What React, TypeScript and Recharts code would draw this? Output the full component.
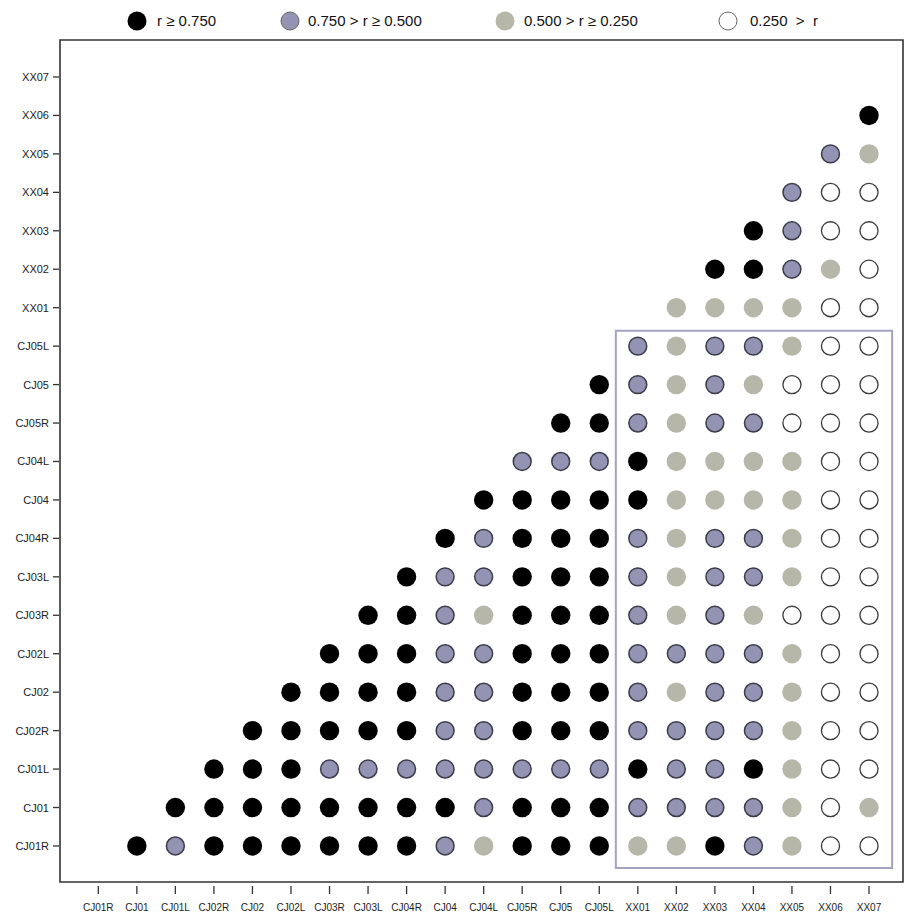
import React from "react";
import { ScatterChart, Scatter, XAxis, YAxis, ReferenceArea } from "recharts";

// Variable names (same order on both axes)
const variables = [
  "CJ01R", "CJ01", "CJ01L", "CJ02R", "CJ02", "CJ02L", "CJ03R", "CJ03L",
  "CJ04R", "CJ04", "CJ04L", "CJ05R", "CJ05", "CJ05L",
  "XX01", "XX02", "XX03", "XX04", "XX05", "XX06", "XX07",
];

// Correlation classes: 3 = r ≥ .75, 2 = .75 > r ≥ .5, 1 = .5 > r ≥ .25, 0 = .25 > r
const levelLabels = ["0.250  >  r", "0.500 > r ≥ 0.250", "0.750 > r ≥ 0.500", "r ≥ 0.750"];

// Each row: classes for the columns to the right of the diagonal
const rowCJ01R = [3, 2, 3, 3, 3, 3, 3, 3, 2, 1, 3, 3, 3, 1, 1, 3, 2, 1, 0, 0];
const rowCJ01 = [3, 3, 3, 3, 3, 3, 3, 3, 2, 3, 3, 3, 2, 2, 2, 2, 1, 0, 1];
const rowCJ01L = [3, 3, 3, 2, 2, 2, 2, 2, 2, 2, 2, 3, 2, 2, 3, 1, 0, 0];
const rowCJ02R = [3, 3, 3, 3, 3, 2, 2, 3, 3, 3, 2, 2, 2, 2, 1, 0, 0];
const rowCJ02 = [3, 3, 3, 3, 2, 2, 3, 3, 3, 2, 1, 2, 2, 1, 0, 0];
const rowCJ02L = [3, 3, 3, 2, 2, 3, 3, 3, 2, 2, 2, 2, 1, 0, 0];
const rowCJ03R = [3, 3, 2, 1, 3, 3, 3, 2, 1, 2, 1, 0, 0, 0];
const rowCJ03L = [3, 2, 2, 3, 3, 3, 2, 1, 2, 2, 1, 0, 0];
const rowCJ04R = [3, 2, 3, 3, 3, 2, 1, 2, 2, 1, 0, 0];
const rowCJ04 = [3, 3, 3, 3, 3, 1, 1, 1, 1, 0, 0];
const rowCJ04L = [2, 2, 2, 3, 1, 1, 1, 1, 0, 0];
const rowCJ05R = [3, 3, 2, 1, 2, 2, 0, 0, 0];
const rowCJ05 = [3, 2, 1, 2, 1, 0, 0, 0];
const rowCJ05L = [2, 1, 2, 2, 1, 0, 0];
const rowXX01 = [1, 1, 1, 1, 0, 0];
const rowXX02 = [3, 3, 2, 1, 0];
const rowXX03 = [3, 2, 0, 0];
const rowXX04 = [2, 0, 0];
const rowXX05 = [2, 1];
const rowXX06 = [3];
const rowXX07: number[] = [];

const rows = [
  rowCJ01R, rowCJ01, rowCJ01L, rowCJ02R, rowCJ02, rowCJ02L, rowCJ03R, rowCJ03L,
  rowCJ04R, rowCJ04, rowCJ04L, rowCJ05R, rowCJ05, rowCJ05L,
  rowXX01, rowXX02, rowXX03, rowXX04, rowXX05, rowXX06, rowXX07,
];

const points: { x: number; y: number; level: number }[] = [];
rows.forEach((row, i) => {
  row.forEach((level, k) => {
    points.push({ x: i + 1 + k, y: i, level });
  });
});

const styles = [
  { fill: "#ffffff", stroke: "#3a3a3a", strokeWidth: 1.3 },
  { fill: "#b6b7a9", stroke: "none", strokeWidth: 0 },
  { fill: "#9394b4", stroke: "#3a3a4a", strokeWidth: 1.5 },
  { fill: "#000000", stroke: "none", strokeWidth: 0 },
];

const ticks = variables.map((_, i) => i);
const xMin = -0.994;
const xMax = 20.882;
const yMin = -0.937;
const yMax = 20.962;

const R = 9.7;

const makeShape = (level: number) => (props: any) => {
  const { cx, cy } = props;
  const s = styles[level];
  return (
    <circle
      cx={cx}
      cy={cy}
      r={s.stroke === "none" ? R : R - s.strokeWidth / 2}
      fill={s.fill}
      stroke={s.stroke}
      strokeWidth={s.strokeWidth}
    />
  );
};

const XTick = (props: any) => {
  const { x, y, payload } = props;
  return (
    <g>
      <line x1={x} y1={y + 4} x2={x} y2={y + 12} stroke="#333" strokeWidth={1.3} />
      <text
        x={x}
        y={y + 29}
        textAnchor="middle"
        fontSize={10}
        fontFamily="'Liberation Sans', Arial, sans-serif"
        fill="#222"
      >
        {variables[payload.value]}
      </text>
    </g>
  );
};

const YTick = (props: any) => {
  const { x, y, payload } = props;
  return (
    <g>
      <line x1={x - 7} y1={y} x2={x - 1} y2={y} stroke="#333" strokeWidth={1.3} />
      <text
        x={x - 11}
        y={y + 4}
        textAnchor="end"
        fontSize={11}
        fontFamily="'Liberation Sans', Arial, sans-serif"
        fill="#222"
      >
        {variables[payload.value]}
      </text>
    </g>
  );
};

const legendItems = [
  { level: 3, cx: 137, tx: 157 },
  { level: 2, cx: 290, tx: 308 },
  { level: 1, cx: 505, tx: 524 },
  { level: 0, cx: 728, tx: 750 },
];

export default function App() {
  return (
    <div style={{ position: "absolute", left: 0, top: 0, width: 907, height: 915, background: "#fff" }}>
      <svg
        width={907}
        height={40}
        style={{ position: "absolute", left: 0, top: 0 }}
      >
        {legendItems.map((it) => {
          const s = styles[it.level];
          return (
            <g key={it.level}>
              <circle
                cx={it.cx}
                cy={21}
                r={s.stroke === "none" ? 9.5 : 9}
                fill={s.fill}
                stroke={s.stroke === "none" ? "none" : "#666"}
                strokeWidth={s.stroke === "none" ? 0 : 1}
              />
              <text
                x={it.tx}
                y={26}
                fontSize={15}
                fontFamily="'Liberation Sans', Arial, sans-serif"
                fill="#111"
                style={{ whiteSpace: "pre" }}
              >
                {levelLabels[it.level]}
              </text>
            </g>
          );
        })}
      </svg>
      <div style={{ position: "absolute", left: 0, top: 0 }}>
        <ScatterChart
          width={907}
          height={915}
          margin={{ top: 40, right: 4, bottom: 0, left: 0 }}
        >
          <XAxis
            type="number"
            dataKey="x"
            domain={[xMin, xMax]}
            ticks={ticks}
            interval={0}
            allowDataOverflow
            axisLine={false}
            tickLine={false}
            tickSize={0}
            tickMargin={0}
            height={33}
            tick={<XTick />}
          />
          <YAxis
            type="number"
            dataKey="y"
            domain={[yMin, yMax]}
            ticks={ticks}
            interval={0}
            allowDataOverflow
            axisLine={false}
            tickLine={false}
            tickSize={0}
            tickMargin={0}
            width={60}
            tick={<YTick />}
          />
          <ReferenceArea
            x1={xMin}
            x2={xMax}
            y1={yMin}
            y2={yMax}
            fill="none"
            fillOpacity={0}
            stroke="#333"
            strokeWidth={1.6}
            ifOverflow="visible"
          />
          <ReferenceArea
            x1={13.43}
            x2={20.6}
            y1={-0.57}
            y2={13.4}
            fill="none"
            fillOpacity={0}
            stroke="#a3a2c4"
            strokeWidth={2}
            ifOverflow="visible"
          />
          {[3, 2, 1, 0].map((lvl) => (
            <Scatter
              key={lvl}
              name={levelLabels[lvl]}
              data={points.filter((p) => p.level === lvl)}
              shape={makeShape(lvl)}
              isAnimationActive={false}
            />
          ))}
        </ScatterChart>
      </div>
    </div>
  );
}
